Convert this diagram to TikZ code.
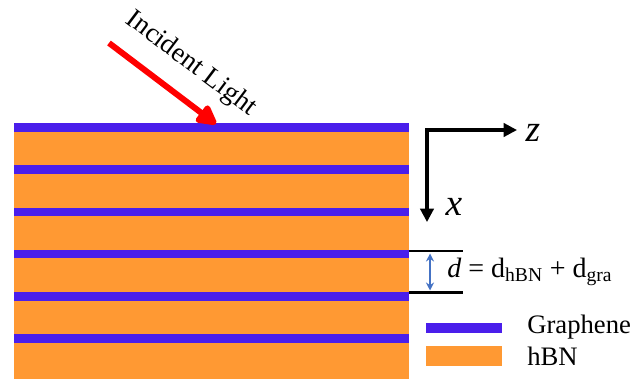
\documentclass[tikz,border=0pt]{standalone}
\usepackage{fontspec}
\setmainfont{Liberation Serif}
\usetikzlibrary{arrows.meta,positioning}
\definecolor{grafeno}{RGB}{74,30,235}
\definecolor{hbn}{RGB}{255,153,51}
\definecolor{luz}{RGB}{255,0,0}
\definecolor{acento}{RGB}{68,114,196}
\tikzset{
  rotulo/.style={inner sep=0pt,font=\fontsize{20}{24}\selectfont},
  eje/.style={inner sep=0pt,font=\fontsize{28}{30}\selectfont\itshape}
}

\begin{document}
\begin{tikzpicture}[x=0.75pt,y=-0.75pt,>=Triangle]
    \useasboundingbox (0,0) rectangle (630,379);
    % capas hBN / grafeno
    \fill[hbn] (14,123.3) rectangle (409,379);
    \foreach \i in {0,...,5}{\fill[grafeno] (14,{123.3+42.15*\i}) rectangle (409,{132+42.15*\i});}
    % luz incidente
    \coordinate (L0) at (109,43);
    \coordinate (L1) at (216,124);
    \draw[luz,line width=4.5pt,line join=round,arrows={-Triangle[length=17pt,width=17pt,round]}] (L0) -- (L1);
    \node[rotulo,rotate=-37,font=\fontsize{20.5}{24}\selectfont] (incidente) at (191,64) {Incident Light};
    % ejes
    \coordinate (O) at (427,130);
    \coordinate (Z) at (517,130);
    \coordinate (X) at (427,222);
    \draw[line width=2.3pt,arrows={Triangle[length=10pt,width=10pt]-Triangle[length=10pt,width=10pt]},line join=miter] (X) -- (O) -- (Z);
    \node[eje] (zlab) at (533,133) {z};
    \node[eje] (xlab) at (454,207) {x};
    % periodo d
    \coordinate (D0) at (409,251.2);
    \coordinate (D1) at (409,292.6);
    \draw[line width=1.7pt] (D0) -- ++(54,0);
    \draw[line width=1.7pt] (D1) -- ++(54,0);
    \coordinate (A0) at (430,253.5);
    \coordinate (A1) at (430,290.5);
    \draw[acento,line width=1.6pt,arrows={Stealth[length=6pt,width=6pt]-Stealth[length=6pt,width=6pt]}] (A0) -- (A1);
    \node[rotulo,anchor=west,font=\fontsize{21}{24}\selectfont] (dlab) at (447,272) {\textit{d} = d\textsubscript{hBN} + d\textsubscript{gra}};
    % leyenda
    \fill[grafeno] (426,323) rectangle (502,333);
    \fill[hbn] (426,346) rectangle (502,366);
    \node[rotulo,anchor=west] (leyg) at (527,327) {Graphene};
    \node[rotulo,anchor=west] (leyh) at (527,356) {hBN};
\end{tikzpicture}
\end{document}
